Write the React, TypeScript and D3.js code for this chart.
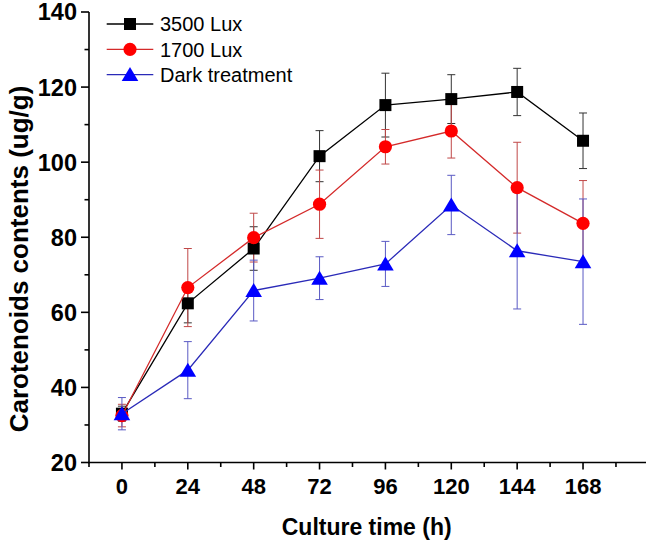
import React from "react";
import * as d3 from "d3";

const times = [0, 24, 48, 72, 96, 120, 144, 168];
const lux3500 = [33.0, 62.4, 77.0, 101.6, 115.2, 116.8, 118.7, 105.7];
const lux3500Err = [2.0, 5.2, 5.8, 6.8, 8.5, 6.5, 6.3, 7.4];
const lux1700 = [32.5, 66.6, 79.9, 88.8, 104.1, 108.3, 93.2, 83.7];
const lux1700Err = [3.0, 10.4, 6.5, 9.1, 4.6, 7.2, 12.1, 11.4];
const dark = [33.0, 44.6, 65.8, 69.1, 72.9, 88.6, 76.4, 73.5];
const darkErr = [4.3, 7.6, 8.1, 5.7, 6.0, 7.9, 15.5, 16.7];
const seriesNames = ["3500 Lux", "1700 Lux", "Dark treatment"];
const xTicks = [0, 24, 48, 72, 96, 120, 144, 168];
const xMinorTicks = [-12, 12, 36, 60, 84, 108, 132, 156, 180];
const yTicks = [20, 40, 60, 80, 100, 120, 140];
const yMinorTicks = [30, 50, 70, 90, 110, 130];

const W = 646;
const H = 544;
const x = d3.scaleLinear().domain([-12, 192]).range([89, 648.9]);
const y = d3.scaleLinear().domain([20, 140]).range([462.5, 12]);

const styles = [
  { line: "#000000", fill: "#000000", err: "#333333", shape: "square" },
  { line: "#d42a2a", fill: "#ff0000", err: "#c04848", shape: "circle" },
  { line: "#2a2ab8", fill: "#0000ff", err: "#5a5ac4", shape: "triangle" },
];

function Marker({ shape, cx, cy, fill }: { shape: string; cx: number; cy: number; fill: string }) {
  if (shape === "square") return <rect x={cx - 6} y={cy - 6} width={12} height={12} fill={fill} />;
  if (shape === "circle") return <circle cx={cx} cy={cy} r={6.6} fill={fill} />;
  const p = d3.path();
  p.moveTo(cx, cy - 7.5);
  p.lineTo(cx + 8.3, cy + 6.5);
  p.lineTo(cx - 8.3, cy + 6.5);
  p.closePath();
  return <path d={p.toString()} fill={fill} />;
}

export default function App() {
  const series = [
    { vals: lux3500, errs: lux3500Err },
    { vals: lux1700, errs: lux1700Err },
    { vals: dark, errs: darkErr },
  ];
  const line = d3
    .line<number>()
    .x((_, i) => x(times[i]))
    .y((d) => y(d));
  const font = "'Liberation Sans', Arial, sans-serif";
  const axisY = y(20);
  const axisX = 89;
  return (
    <svg width={W} height={H} style={{ position: "absolute", left: 0, top: 0, background: "#fff" }} fontFamily={font}>
      <rect width={W} height={H} fill="#fff" />
      {/* error bars */}
      {series.map((s, si) => (
        <g key={"e" + si} stroke={styles[si].err} strokeWidth={1}>
          {s.vals.map((v, i) => {
            const cx = x(times[i]);
            const t = y(v + s.errs[i]);
            const b = y(v - s.errs[i]);
            return (
              <g key={i}>
                <line x1={cx} x2={cx} y1={t} y2={b} />
                <line x1={cx - 4} x2={cx + 4} y1={t} y2={t} />
                <line x1={cx - 4} x2={cx + 4} y1={b} y2={b} />
              </g>
            );
          })}
        </g>
      ))}
      {/* lines and markers */}
      {series.map((s, si) => (
        <g key={"s" + si}>
          <path d={line(s.vals) || ""} fill="none" stroke={styles[si].line} strokeWidth={1.3} />
          {s.vals.map((v, i) => (
            <Marker key={i} shape={styles[si].shape} cx={x(times[i])} cy={y(v)} fill={styles[si].fill} />
          ))}
        </g>
      ))}
      {/* axes */}
      <g stroke="#000" strokeWidth={1.6}>
        <line x1={axisX} x2={axisX} y1={y(140)} y2={axisY + 0.8} />
        <line x1={axisX - 0.8} x2={W} y1={axisY} y2={axisY} />
        {yTicks.map((t) => (
          <line key={"yt" + t} x1={axisX - 8} x2={axisX} y1={y(t)} y2={y(t)} />
        ))}
        {yMinorTicks.map((t) => (
          <line key={"ym" + t} x1={axisX - 4.5} x2={axisX} y1={y(t)} y2={y(t)} />
        ))}
        {xTicks.map((t) => (
          <line key={"xt" + t} x1={x(t)} x2={x(t)} y1={axisY} y2={axisY + 7} />
        ))}
        {xMinorTicks.map((t) => (
          <line key={"xm" + t} x1={x(t)} x2={x(t)} y1={axisY} y2={axisY + 4.5} />
        ))}
      </g>
      {yTicks.map((t) => (
        <text key={"yl" + t} x={77} y={y(t)} dy="0.36em" textAnchor="end" fontSize={23.5} fontWeight="bold">
          {t}
        </text>
      ))}
      {xTicks.map((t) => (
        <text key={"xl" + t} x={x(t)} y={494} textAnchor="middle" fontSize={22} fontWeight="bold">
          {t}
        </text>
      ))}
      <text x={366.7} y={535} textAnchor="middle" fontSize={23} fontWeight="bold">
        Culture time (h)
      </text>
      <text transform="translate(28,259) rotate(-90)" textAnchor="middle" fontSize={26} fontWeight="bold">
        Carotenoids contents (ug/g)
      </text>
      {/* legend */}
      {seriesNames.map((n, i) => {
        const ly = 24 + i * 25.3;
        return (
          <g key={"lg" + i}>
            <line x1={106.7} x2={153.3} y1={ly} y2={ly} stroke={styles[i].line} strokeWidth={1.3} />
            <Marker shape={styles[i].shape} cx={130} cy={ly} fill={styles[i].fill} />
            <text x={160} y={ly} dy="0.36em" fontSize={20}>
              {n}
            </text>
          </g>
        );
      })}
    </svg>
  );
}
